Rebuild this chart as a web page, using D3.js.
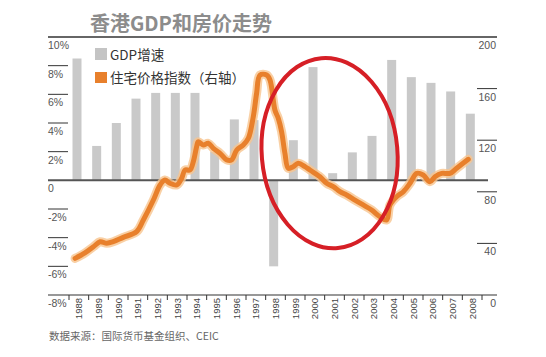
<!DOCTYPE html>
<html><head><meta charset="utf-8">
<script src="https://cdn.jsdelivr.net/npm/d3@7/dist/d3.min.js"></script>
<style>body{margin:0;background:#fff}svg{display:block}</style>
</head><body><svg id="c" width="546" height="357"></svg>
<script>
// ---- data ----
const years = [1988,1989,1990,1991,1992,1993,1994,1995,1996,1997,1998,1999,2000,2001,2002,2003,2004,2005,2006,2007,2008];
const gdpGrowth = [8.5,2.4,4.0,5.7,6.1,6.1,6.1,2.0,4.25,4.2,-6.0,2.8,7.9,0.5,1.95,3.1,8.4,7.2,6.8,6.2,4.65];
const priceTime = [1988.31,1988.81,1989.24,1989.58,1989.92,1990.25,1990.76,1991.44,1991.78,1992.29,1992.63,1992.88,1993.13,1993.48,1993.73,1993.90,1994.15,1994.32,1994.49,1994.57,1994.83,1995.08,1995.34,1995.68,1996.02,1996.27,1996.53,1996.86,1997.12,1997.37,1997.54,1997.71,1998.05,1998.22,1998.47,1998.64,1998.81,1998.98,1999.15,1999.40,1999.66,2000.00,2000.25,2000.76,2001.10,2001.44,2001.78,2002.12,2002.54,2002.96,2003.39,2003.81,2004.15,2004.32,2004.66,2005.00,2005.34,2005.68,2006.01,2006.35,2006.61,2006.95,2007.37,2007.71,2008.30];
const priceIndex = [28.4,32.6,37.4,41.3,40.1,41.3,44.7,49.1,58.1,73.6,85.3,89.1,86.6,85.3,90.5,96.9,96.9,103.3,115,118.8,116.3,117.6,113.7,109.8,104.7,104.7,112.4,116.3,121.5,138.2,156.4,170.5,170.5,166.7,143.4,137,126.6,109.8,98.2,99.5,102.1,99.5,96.9,91.7,86.6,84.0,80.1,77.5,73.6,69.8,65.9,60.7,58.1,69.8,76.2,80.1,86.6,94.3,93.0,87.8,91.7,94.3,94.3,98.2,105.2];
const leftTicks = [-8,-6,-4,-2,0,2,4,6,8,10];
const rightTicks = [0,40,80,120,160,200];
const titleText = "香港GDP和房价走势";
const legendLabels = ["GDP增速","住宅价格指数（右轴）"];
const sourceText = "数据来源：国际货币基金组织、CEIC";
// annotation ellipse (data units: time, left-axis %)
const ellipseCenter = [2001.25, 1.9];
const ellipseRadii = [3.45, 6.65];

// ---- chart ----
const svg = d3.select("#c");
const L = 48, R = 497, T = 37, B = 295;
const x = d3.scaleBand().domain(years).range([69, 482]).padding(0);
const xt = d3.scaleLinear().domain([1988, 2009]).range([69, 482]);
const yL = d3.scaleLinear().domain([-8, 10]).range([B, T]);
const yR = d3.scaleLinear().domain([0, 200]).range([B, T]);
const numFont = "'Liberation Sans', Arial, sans-serif";
const cjkFont = "'Noto Sans CJK SC', sans-serif";

// title
svg.append("text").attr("x", 90).attr("y", 31).text(titleText)
  .attr("font-family", cjkFont).attr("font-weight", "bold").attr("font-size", 20).attr("fill", "#8c8c8c");

// bars
svg.append("g").selectAll("rect").data(years).join("rect")
  .attr("x", d => x(d) + 3.5)
  .attr("width", 9)
  .attr("y", (d, i) => yL(Math.max(0, gdpGrowth[i])))
  .attr("height", (d, i) => Math.abs(yL(gdpGrowth[i]) - yL(0)))
  .attr("fill", "#c9c9c9");

// zero line
svg.append("line").attr("x1", L).attr("x2", 488).attr("y1", yL(0)).attr("y2", yL(0))
  .attr("stroke", "#555").attr("stroke-width", 2);

// price line
const pts = priceTime.map((t, i) => [t, priceIndex[i]]);
const line = d3.line().x(d => xt(d[0])).y(d => yR(d[1])).curve(d3.curveCatmullRom.alpha(0.5));
svg.append("path").datum(pts).attr("d", line).attr("fill", "none")
  .attr("stroke", "#f8c48e").attr("stroke-width", 9).attr("stroke-linejoin", "round").attr("stroke-linecap", "round").attr("opacity", 0.8);
svg.append("path").datum(pts).attr("d", line).attr("fill", "none")
  .attr("stroke", "#e8802c").attr("stroke-width", 5).attr("stroke-linejoin", "round").attr("stroke-linecap", "round");

// annotation ellipse
const ecx = xt(ellipseCenter[0]), ecy = yL(ellipseCenter[1]);
svg.append("ellipse").attr("cx", ecx).attr("cy", ecy)
  .attr("rx", xt(ellipseCenter[0] + ellipseRadii[0]) - ecx)
  .attr("ry", ecy - yL(ellipseCenter[1] + ellipseRadii[1]))
  .attr("transform", `rotate(-5 ${ecx} ${ecy})`)
  .attr("fill", "none").attr("stroke", "#d61f26").attr("stroke-width", 4);

// frame lines
svg.append("line").attr("x1", L).attr("x2", R).attr("y1", T).attr("y2", T).attr("stroke", "#333").attr("stroke-width", 1.5);
svg.append("line").attr("x1", L).attr("x2", R).attr("y1", B).attr("y2", B).attr("stroke", "#333").attr("stroke-width", 1.2);

// x ticks
const bounds = years.map(d => x(d)).concat([x(years[years.length - 1]) + x.bandwidth()]);
svg.append("g").selectAll("line").data(bounds).join("line")
  .attr("x1", d => d).attr("x2", d => d).attr("y1", B).attr("y2", B + 5)
  .attr("stroke", "#333").attr("stroke-width", 1);
svg.append("g").selectAll("text").data(years).join("text")
  .attr("transform", d => `translate(${x(d) + x.bandwidth() / 2 + 3.5},${B + 3}) rotate(-90)`)
  .attr("text-anchor", "end").attr("font-family", numFont).attr("font-size", 9.5).attr("fill", "#444")
  .text(d => d);

// left axis
svg.append("g").selectAll("line").data(leftTicks.filter(v => v > -8 && v < 10 && v !== 0)).join("line")
  .attr("x1", L).attr("x2", 68).attr("y1", d => yL(d)).attr("y2", d => yL(d))
  .attr("stroke", "#333").attr("stroke-width", 1);
svg.append("g").selectAll("text").data(leftTicks).join("text")
  .attr("x", L).attr("y", d => yL(d) + 12)
  .attr("font-family", numFont).attr("font-size", 10.5).attr("fill", "#555")
  .text(d => d === 0 ? "0" : d + "%");

// right axis
svg.append("g").selectAll("line").data(rightTicks.filter(v => v > 0 && v < 200)).join("line")
  .attr("x1", 477).attr("x2", R).attr("y1", d => yR(d)).attr("y2", d => yR(d))
  .attr("stroke", "#333").attr("stroke-width", 1);
svg.append("g").selectAll("text").data(rightTicks).join("text")
  .attr("x", 496).attr("y", d => yR(d) + 12).attr("text-anchor", "end")
  .attr("font-family", numFont).attr("font-size", 10.5).attr("fill", "#555")
  .text(d => d);

// legend
const lg = svg.append("g");
lg.append("rect").attr("x", 95).attr("y", 48).attr("width", 12).attr("height", 12).attr("fill", "#c4c4c4");
lg.append("text").attr("x", 110).attr("y", 60).text(legendLabels[0])
  .attr("font-family", cjkFont).attr("font-size", 13.5).attr("fill", "#333");
lg.append("rect").attr("x", 95).attr("y", 72).attr("width", 12).attr("height", 11).attr("fill", "#e8802c");
lg.append("text").attr("x", 110).attr("y", 83).text(legendLabels[1])
  .attr("font-family", cjkFont).attr("font-size", 13.5).attr("fill", "#333");

// source
svg.append("text").attr("x", 49).attr("y", 340).text(sourceText)
  .attr("font-family", cjkFont).attr("font-size", 10.5).attr("fill", "#666");
</script></body></html>
